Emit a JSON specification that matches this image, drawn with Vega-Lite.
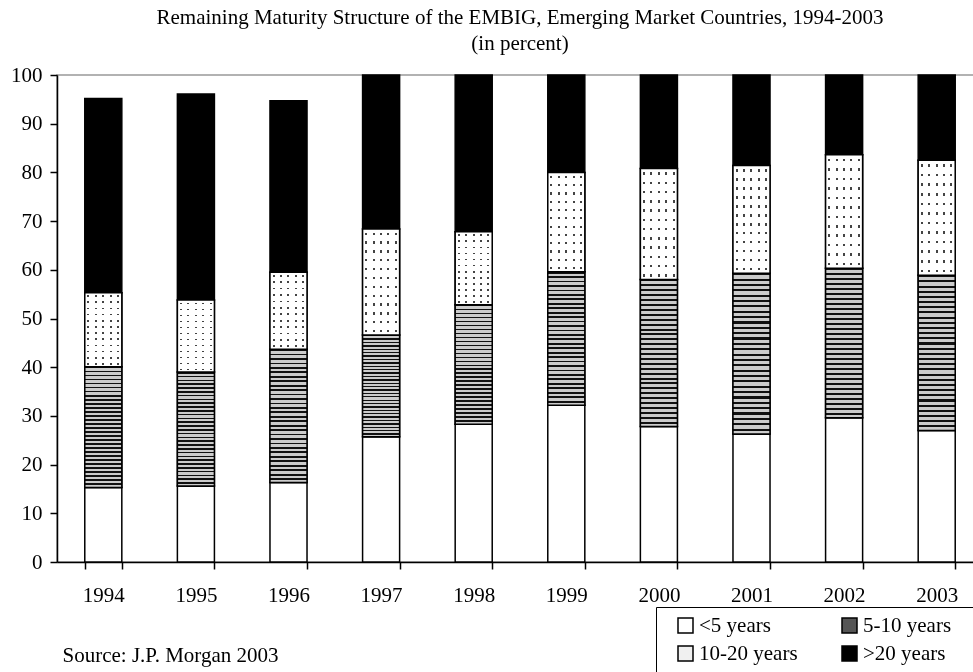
{
  "$schema": "https://vega.github.io/schema/vega-lite/v6.json",
  "width": 926,
  "height": 487,
  "autosize": {"type": "none"},
  "padding": {"left": 57, "top": 75, "right": -10, "bottom": 110},
  "background": "white",
  "title": {
    "text": "Remaining Maturity Structure of the EMBIG, Emerging Market Countries, 1994-2003",
    "subtitle": "(in percent)",
    "font": "Liberation Serif",
    "fontSize": 21,
    "fontWeight": "normal",
    "subtitleFont": "Liberation Serif",
    "subtitleFontSize": 21,
    "color": "black",
    "subtitleColor": "black",
    "anchor": "middle",
    "frame": "group",
    "offset": 10,
    "subtitlePadding": 5
  },
  "config": {
    "view": {"stroke": "#999999", "strokeWidth": 1.5},
    "legend": {
      "orient": "none",
      "legendX": 599,
      "legendY": 532,
      "direction": "horizontal",
      "columns": 2,
      "strokeColor": "black",
      "fillColor": "white",
      "padding": 8,
      "symbolType": "square",
      "symbolSize": 225,
      "symbolStrokeColor": "black",
      "symbolStrokeWidth": 1.5,
      "symbolOffset": 11,
      "labelOffset": 3,
      "labelFont": "Liberation Serif",
      "labelFontSize": 21,
      "labelColor": "black",
      "columnPadding": 30,
      "rowPadding": 6,
      "labelLimit": 400,
      "titleOrient": "right",
      "titlePadding": 40,
      "titleFont": "Liberation Serif",
      "titleFontSize": 21,
      "titleColor": "white"
    }
  },
  "data": {
    "values": [
      {"year": "1994", "maturity": "<5 years", "rank": 1, "value": 15.3},
      {"year": "1994", "maturity": "5-10 years", "rank": 2, "value": 24.8},
      {"year": "1994", "maturity": "10-20 years", "rank": 3, "value": 15.2},
      {"year": "1994", "maturity": ">20 years", "rank": 4, "value": 39.9},
      {"year": "1995", "maturity": "<5 years", "rank": 1, "value": 15.6},
      {"year": "1995", "maturity": "5-10 years", "rank": 2, "value": 23.4},
      {"year": "1995", "maturity": "10-20 years", "rank": 3, "value": 14.8},
      {"year": "1995", "maturity": ">20 years", "rank": 4, "value": 42.3},
      {"year": "1996", "maturity": "<5 years", "rank": 1, "value": 16.3},
      {"year": "1996", "maturity": "5-10 years", "rank": 2, "value": 27.4},
      {"year": "1996", "maturity": "10-20 years", "rank": 3, "value": 15.8},
      {"year": "1996", "maturity": ">20 years", "rank": 4, "value": 35.2},
      {"year": "1997", "maturity": "<5 years", "rank": 1, "value": 25.7},
      {"year": "1997", "maturity": "5-10 years", "rank": 2, "value": 20.9},
      {"year": "1997", "maturity": "10-20 years", "rank": 3, "value": 21.8},
      {"year": "1997", "maturity": ">20 years", "rank": 4, "value": 31.6},
      {"year": "1998", "maturity": "<5 years", "rank": 1, "value": 28.3},
      {"year": "1998", "maturity": "5-10 years", "rank": 2, "value": 24.5},
      {"year": "1998", "maturity": "10-20 years", "rank": 3, "value": 15.0},
      {"year": "1998", "maturity": ">20 years", "rank": 4, "value": 32.2},
      {"year": "1999", "maturity": "<5 years", "rank": 1, "value": 32.2},
      {"year": "1999", "maturity": "5-10 years", "rank": 2, "value": 27.4},
      {"year": "1999", "maturity": "10-20 years", "rank": 3, "value": 20.4},
      {"year": "1999", "maturity": ">20 years", "rank": 4, "value": 20.0},
      {"year": "2000", "maturity": "<5 years", "rank": 1, "value": 27.8},
      {"year": "2000", "maturity": "5-10 years", "rank": 2, "value": 30.2},
      {"year": "2000", "maturity": "10-20 years", "rank": 3, "value": 22.8},
      {"year": "2000", "maturity": ">20 years", "rank": 4, "value": 19.2},
      {"year": "2001", "maturity": "<5 years", "rank": 1, "value": 26.3},
      {"year": "2001", "maturity": "5-10 years", "rank": 2, "value": 33.0},
      {"year": "2001", "maturity": "10-20 years", "rank": 3, "value": 22.1},
      {"year": "2001", "maturity": ">20 years", "rank": 4, "value": 18.6},
      {"year": "2002", "maturity": "<5 years", "rank": 1, "value": 29.6},
      {"year": "2002", "maturity": "5-10 years", "rank": 2, "value": 30.7},
      {"year": "2002", "maturity": "10-20 years", "rank": 3, "value": 23.3},
      {"year": "2002", "maturity": ">20 years", "rank": 4, "value": 16.4},
      {"year": "2003", "maturity": "<5 years", "rank": 1, "value": 27.0},
      {"year": "2003", "maturity": "5-10 years", "rank": 2, "value": 31.9},
      {"year": "2003", "maturity": "10-20 years", "rank": 3, "value": 23.6},
      {"year": "2003", "maturity": ">20 years", "rank": 4, "value": 17.5}
    ]
  },
  "transform": [
    {"stack": "value", "groupby": ["year"], "sort": [{"field": "rank", "order": "ascending"}], "as": ["v0", "v1"]}
  ],
  "encoding": {
    "x": {
      "field": "year",
      "type": "ordinal",
      "scale": {"paddingInner": 0.6, "paddingOuter": 0.3},
      "axis": {
        "title": "Source: J.P. Morgan 2003",
        "titleFont": "Liberation Serif",
        "titleFontSize": 21,
        "titleFontWeight": "normal",
        "titleColor": "black",
        "titleAlign": "left",
        "titleAnchor": "start",
        "titleBaseline": "middle",
        "titleX": 5,
        "titleY": 93,
        "labelAngle": 0,
        "labelFont": "Liberation Serif",
        "labelFontSize": 21,
        "labelColor": "black",
        "labelPadding": 15,
        "tickBand": "extent",
        "tickSize": 7,
        "tickColor": "black",
        "tickWidth": 1.5,
        "domainColor": "black",
        "domainWidth": 1.5,
        "grid": false
      }
    },
    "y": {
      "field": "v1",
      "type": "quantitative",
      "scale": {"domain": [0, 100], "nice": false},
      "axis": {
        "title": null,
        "values": [0, 10, 20, 30, 40, 50, 60, 70, 80, 90, 100],
        "labelFont": "Liberation Serif",
        "labelFontSize": 21,
        "labelColor": "black",
        "labelPadding": 8,
        "tickSize": 7,
        "tickColor": "black",
        "tickWidth": 1.5,
        "domainColor": "black",
        "domainWidth": 1.5,
        "grid": false
      }
    },
    "y2": {"field": "v0"}
  },
  "layer": [
    {
      "mark": {"type": "bar", "stroke": "black", "strokeWidth": 1.5},
      "encoding": {
        "color": {
          "field": "maturity",
          "type": "nominal",
          "scale": {
            "domain": ["<5 years", "5-10 years", "10-20 years", ">20 years"],
            "range": ["#ffffff", "#555555", "#f0f0f0", "#000000"]
          },
          "legend": {"title": "."}
        }
      }
    },
    {
      "transform": [{"filter": "datum.maturity === '5-10 years'"}],
      "mark": {
        "type": "bar",
        "stroke": "black",
        "strokeWidth": 1.5,
        "fill": {"gradient": "linear", "x1": 0, "y1": 0, "x2": 0, "y2": 1, "stops": [
            {"offset": 0, "color": "#111111"}, {"offset": 0.0133, "color": "#111111"}, {"offset": 0.0133, "color": "#cccccc"}, {"offset": 0.0333, "color": "#cccccc"},
            {"offset": 0.0333, "color": "#111111"}, {"offset": 0.0467, "color": "#111111"}, {"offset": 0.0467, "color": "#cccccc"}, {"offset": 0.0667, "color": "#cccccc"},
            {"offset": 0.0667, "color": "#111111"}, {"offset": 0.08, "color": "#111111"}, {"offset": 0.08, "color": "#cccccc"}, {"offset": 0.1, "color": "#cccccc"},
            {"offset": 0.1, "color": "#111111"}, {"offset": 0.1133, "color": "#111111"}, {"offset": 0.1133, "color": "#cccccc"}, {"offset": 0.1333, "color": "#cccccc"},
            {"offset": 0.1333, "color": "#111111"}, {"offset": 0.1467, "color": "#111111"}, {"offset": 0.1467, "color": "#cccccc"}, {"offset": 0.1667, "color": "#cccccc"},
            {"offset": 0.1667, "color": "#111111"}, {"offset": 0.18, "color": "#111111"}, {"offset": 0.18, "color": "#cccccc"}, {"offset": 0.2, "color": "#cccccc"},
            {"offset": 0.2, "color": "#111111"}, {"offset": 0.2133, "color": "#111111"}, {"offset": 0.2133, "color": "#cccccc"}, {"offset": 0.2333, "color": "#cccccc"},
            {"offset": 0.2333, "color": "#111111"}, {"offset": 0.2467, "color": "#111111"}, {"offset": 0.2467, "color": "#cccccc"}, {"offset": 0.2667, "color": "#cccccc"},
            {"offset": 0.2667, "color": "#111111"}, {"offset": 0.28, "color": "#111111"}, {"offset": 0.28, "color": "#cccccc"}, {"offset": 0.3, "color": "#cccccc"},
            {"offset": 0.3, "color": "#111111"}, {"offset": 0.3133, "color": "#111111"}, {"offset": 0.3133, "color": "#cccccc"}, {"offset": 0.3333, "color": "#cccccc"},
            {"offset": 0.3333, "color": "#111111"}, {"offset": 0.3467, "color": "#111111"}, {"offset": 0.3467, "color": "#cccccc"}, {"offset": 0.3667, "color": "#cccccc"},
            {"offset": 0.3667, "color": "#111111"}, {"offset": 0.38, "color": "#111111"}, {"offset": 0.38, "color": "#cccccc"}, {"offset": 0.4, "color": "#cccccc"},
            {"offset": 0.4, "color": "#111111"}, {"offset": 0.4133, "color": "#111111"}, {"offset": 0.4133, "color": "#cccccc"}, {"offset": 0.4333, "color": "#cccccc"},
            {"offset": 0.4333, "color": "#111111"}, {"offset": 0.4467, "color": "#111111"}, {"offset": 0.4467, "color": "#cccccc"}, {"offset": 0.4667, "color": "#cccccc"},
            {"offset": 0.4667, "color": "#111111"}, {"offset": 0.48, "color": "#111111"}, {"offset": 0.48, "color": "#cccccc"}, {"offset": 0.5, "color": "#cccccc"},
            {"offset": 0.5, "color": "#111111"}, {"offset": 0.5133, "color": "#111111"}, {"offset": 0.5133, "color": "#cccccc"}, {"offset": 0.5333, "color": "#cccccc"},
            {"offset": 0.5333, "color": "#111111"}, {"offset": 0.5467, "color": "#111111"}, {"offset": 0.5467, "color": "#cccccc"}, {"offset": 0.5667, "color": "#cccccc"},
            {"offset": 0.5667, "color": "#111111"}, {"offset": 0.58, "color": "#111111"}, {"offset": 0.58, "color": "#cccccc"}, {"offset": 0.6, "color": "#cccccc"},
            {"offset": 0.6, "color": "#111111"}, {"offset": 0.6133, "color": "#111111"}, {"offset": 0.6133, "color": "#cccccc"}, {"offset": 0.6333, "color": "#cccccc"},
            {"offset": 0.6333, "color": "#111111"}, {"offset": 0.6467, "color": "#111111"}, {"offset": 0.6467, "color": "#cccccc"}, {"offset": 0.6667, "color": "#cccccc"},
            {"offset": 0.6667, "color": "#111111"}, {"offset": 0.68, "color": "#111111"}, {"offset": 0.68, "color": "#cccccc"}, {"offset": 0.7, "color": "#cccccc"},
            {"offset": 0.7, "color": "#111111"}, {"offset": 0.7133, "color": "#111111"}, {"offset": 0.7133, "color": "#cccccc"}, {"offset": 0.7333, "color": "#cccccc"},
            {"offset": 0.7333, "color": "#111111"}, {"offset": 0.7467, "color": "#111111"}, {"offset": 0.7467, "color": "#cccccc"}, {"offset": 0.7667, "color": "#cccccc"},
            {"offset": 0.7667, "color": "#111111"}, {"offset": 0.78, "color": "#111111"}, {"offset": 0.78, "color": "#cccccc"}, {"offset": 0.8, "color": "#cccccc"},
            {"offset": 0.8, "color": "#111111"}, {"offset": 0.8133, "color": "#111111"}, {"offset": 0.8133, "color": "#cccccc"}, {"offset": 0.8333, "color": "#cccccc"},
            {"offset": 0.8333, "color": "#111111"}, {"offset": 0.8467, "color": "#111111"}, {"offset": 0.8467, "color": "#cccccc"}, {"offset": 0.8667, "color": "#cccccc"},
            {"offset": 0.8667, "color": "#111111"}, {"offset": 0.88, "color": "#111111"}, {"offset": 0.88, "color": "#cccccc"}, {"offset": 0.9, "color": "#cccccc"},
            {"offset": 0.9, "color": "#111111"}, {"offset": 0.9133, "color": "#111111"}, {"offset": 0.9133, "color": "#cccccc"}, {"offset": 0.9333, "color": "#cccccc"},
            {"offset": 0.9333, "color": "#111111"}, {"offset": 0.9467, "color": "#111111"}, {"offset": 0.9467, "color": "#cccccc"}, {"offset": 0.9667, "color": "#cccccc"},
            {"offset": 0.9667, "color": "#111111"}, {"offset": 0.98, "color": "#111111"}, {"offset": 0.98, "color": "#cccccc"}, {"offset": 1, "color": "#cccccc"}
        ]}
      }
    },
    {
      "transform": [{"filter": "datum.maturity === '10-20 years'"}],
      "mark": {
        "type": "bar",
        "stroke": "black",
        "strokeWidth": 1.5,
        "fill": {"gradient": "linear", "x1": 0, "y1": 0, "x2": 0, "y2": 1, "stops": [
            {"offset": 0, "color": "#ffffff"},
            {"offset": 0.035, "color": "#ffffff"}, {"offset": 0.035, "color": "#444444"}, {"offset": 0.057, "color": "#444444"}, {"offset": 0.057, "color": "#ffffff"},
            {"offset": 0.1183, "color": "#ffffff"}, {"offset": 0.1183, "color": "#444444"}, {"offset": 0.1403, "color": "#444444"}, {"offset": 0.1403, "color": "#ffffff"},
            {"offset": 0.2017, "color": "#ffffff"}, {"offset": 0.2017, "color": "#444444"}, {"offset": 0.2237, "color": "#444444"}, {"offset": 0.2237, "color": "#ffffff"},
            {"offset": 0.285, "color": "#ffffff"}, {"offset": 0.285, "color": "#444444"}, {"offset": 0.307, "color": "#444444"}, {"offset": 0.307, "color": "#ffffff"},
            {"offset": 0.3683, "color": "#ffffff"}, {"offset": 0.3683, "color": "#444444"}, {"offset": 0.3903, "color": "#444444"}, {"offset": 0.3903, "color": "#ffffff"},
            {"offset": 0.4517, "color": "#ffffff"}, {"offset": 0.4517, "color": "#444444"}, {"offset": 0.4737, "color": "#444444"}, {"offset": 0.4737, "color": "#ffffff"},
            {"offset": 0.535, "color": "#ffffff"}, {"offset": 0.535, "color": "#444444"}, {"offset": 0.557, "color": "#444444"}, {"offset": 0.557, "color": "#ffffff"},
            {"offset": 0.6183, "color": "#ffffff"}, {"offset": 0.6183, "color": "#444444"}, {"offset": 0.6403, "color": "#444444"}, {"offset": 0.6403, "color": "#ffffff"},
            {"offset": 0.7017, "color": "#ffffff"}, {"offset": 0.7017, "color": "#444444"}, {"offset": 0.7237, "color": "#444444"}, {"offset": 0.7237, "color": "#ffffff"},
            {"offset": 0.785, "color": "#ffffff"}, {"offset": 0.785, "color": "#444444"}, {"offset": 0.807, "color": "#444444"}, {"offset": 0.807, "color": "#ffffff"},
            {"offset": 0.8683, "color": "#ffffff"}, {"offset": 0.8683, "color": "#444444"}, {"offset": 0.8903, "color": "#444444"}, {"offset": 0.8903, "color": "#ffffff"},
            {"offset": 0.9517, "color": "#ffffff"}, {"offset": 0.9517, "color": "#444444"}, {"offset": 0.9737, "color": "#444444"}, {"offset": 0.9737, "color": "#ffffff"},
            {"offset": 1, "color": "#ffffff"}
        ]}
      }
    },
    {
      "transform": [{"filter": "datum.maturity === '10-20 years'"}],
      "mark": {
        "type": "bar",
        "stroke": "black",
        "strokeWidth": 1.5,
        "blend": "lighten",
        "fill": {"gradient": "linear", "x1": 0, "y1": 0, "x2": 1, "y2": 0, "stops": [
            {"offset": 0, "color": "#ffffff"},
            {"offset": 0.07, "color": "#ffffff"}, {"offset": 0.07, "color": "#444444"}, {"offset": 0.125, "color": "#444444"}, {"offset": 0.125, "color": "#ffffff"},
            {"offset": 0.27, "color": "#ffffff"}, {"offset": 0.27, "color": "#444444"}, {"offset": 0.325, "color": "#444444"}, {"offset": 0.325, "color": "#ffffff"},
            {"offset": 0.47, "color": "#ffffff"}, {"offset": 0.47, "color": "#444444"}, {"offset": 0.525, "color": "#444444"}, {"offset": 0.525, "color": "#ffffff"},
            {"offset": 0.67, "color": "#ffffff"}, {"offset": 0.67, "color": "#444444"}, {"offset": 0.725, "color": "#444444"}, {"offset": 0.725, "color": "#ffffff"},
            {"offset": 0.87, "color": "#ffffff"}, {"offset": 0.87, "color": "#444444"}, {"offset": 0.925, "color": "#444444"}, {"offset": 0.925, "color": "#ffffff"},
            {"offset": 1, "color": "#ffffff"}
        ]}
      }
    }
  ]
}
